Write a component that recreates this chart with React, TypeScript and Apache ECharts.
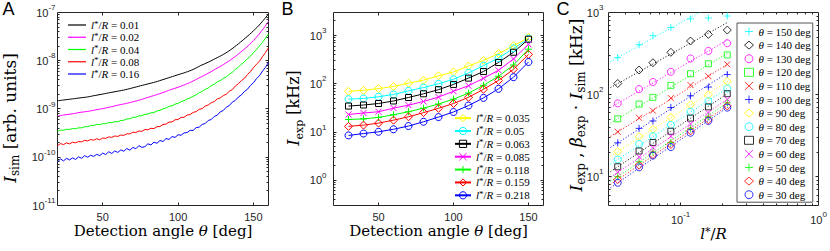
import React, { useEffect, useRef } from 'react';
import * as echarts from 'echarts';

const SERIF = '"DejaVu Serif", serif';
const TIMES = '"Liberation Serif", "Times New Roman", serif';
const SANS = '"Liberation Sans", Arial, Helvetica, sans-serif';
const AX = '#262626';

// ---------------- Panel A : simulated intensity, values in units of 1e-10 arb. units
const simAnglesCoarse = [20, 25, 30, 35, 40, 45, 50, 55, 60, 65, 70, 75, 80, 85, 90, 95, 100, 105, 110, 115, 120, 125, 130, 135, 140, 145, 150, 155, 160];
const simAnglesFine = [
  20, 22, 24, 26, 28, 30, 32, 34, 36, 38, 40, 42, 44, 46, 48, 50, 52, 54, 56, 58, 60, 62, 64, 66, 68, 70,
  72, 74, 76, 78, 80, 82, 84, 86, 88, 90, 92, 94, 96, 98, 100, 102, 104, 106, 108, 110, 112, 114, 116, 118,
  120, 122, 124, 126, 128, 130, 132, 134, 136, 138, 140, 142, 144, 146, 148, 150, 152, 154, 156, 158, 160,
];
const simRatios = ['0.01', '0.02', '0.04', '0.08', '0.16'];
const simColors = ['#000000', '#ff00ff', '#00ff00', '#ff0000', '#0000ff'];
const simI001 = [14.8, 15.5, 16.2, 17.0, 17.8, 19.1, 20.4, 21.9, 23.4, 25.1, 27.5, 30.2, 33.1, 36.3, 40.7, 45.7, 51.3, 57.5, 66.1, 79.4, 93.3, 112, 135, 170, 224, 302, 417, 603, 930];
const simI002 = [7.08, 7.59, 7.94, 8.51, 8.91, 9.55, 10.2, 11.0, 12.0, 12.9, 14.1, 15.5, 17.4, 19.5, 21.9, 25.1, 28.2, 32.4, 38.0, 45.7, 55.0, 67.6, 83.2, 105, 138, 186, 263, 398, 661];
const simI004 = [
  3.45, 3.66, 3.64, 3.80, 3.77, 3.94, 3.90, 4.08, 4.06, 4.30, 4.30, 4.55, 4.55, 4.79, 4.74, 4.97, 4.96, 5.25, 5.22, 5.48,
  5.42, 5.78, 5.84, 6.23, 6.28, 6.70, 6.76, 7.20, 7.28, 7.76, 7.84, 8.35, 8.44, 9.12, 9.38, 10.1, 10.45, 11.35, 11.65, 12.65,
  13.05, 14.25, 14.85, 16.2, 16.9, 18.4, 19.6, 21.75, 23.0, 25.6, 27.2, 30.4, 32.7, 36.6, 38.8, 43.1, 46.6, 52.5, 57.7, 66.3,
  73.4, 84.8, 94.6, 110, 124, 146, 170, 203, 239, 293, 363,
];
const simI008 = [
  1.74, 1.92, 1.83, 1.98, 1.90, 2.05, 1.99, 2.12, 2.08, 2.24, 2.18, 2.33, 2.26, 2.42, 2.30, 2.50, 2.46, 2.64, 2.58, 2.76,
  2.70, 2.89, 2.84, 3.07, 3.04, 3.31, 3.26, 3.50, 3.44, 3.76, 3.70, 3.99, 3.93, 4.30, 4.33, 4.80, 4.85, 5.36, 5.40, 5.98,
  6.05, 6.68, 6.75, 7.50, 7.68, 8.50, 8.82, 9.85, 10.2, 11.5, 12.1, 13.5, 14.2, 16.1, 17.0, 18.9, 20.3, 23.3, 25.3, 30.0,
  33.4, 38.7, 43.0, 51.8, 59.2, 71.6, 84.5, 97.5, 121, 148, 186,
];
const simI016 = [
  0.80, 0.92, 0.84, 0.95, 0.88, 0.97, 0.90, 1.02, 0.95, 1.08, 1.00, 1.10, 1.04, 1.15, 1.08, 1.22, 1.14, 1.30, 1.20, 1.35,
  1.26, 1.42, 1.33, 1.52, 1.40, 1.60, 1.50, 1.74, 1.60, 1.66, 1.90, 1.80, 2.05, 1.95, 2.22, 2.12, 2.44, 2.34, 2.68, 2.58,
  2.92, 2.86, 3.20, 3.25, 3.62, 3.60, 4.12, 4.20, 4.80, 5.00, 5.78, 6.05, 7.00, 7.45, 8.70, 9.35, 10.9, 11.8, 13.9, 15.1,
  17.7, 19.5, 23.1, 25.6, 30.7, 35.0, 42.3, 49.0, 61.0, 73.0, 93.0,
];

// ---------------- Panel B : measured intensity I_exp [kHz]
const expAngles = [30, 40, 50, 60, 70, 80, 90, 100, 110, 120, 130, 140, 150];
const expRatios = ['0.035', '0.05', '0.063', '0.085', '0.118', '0.159', '0.218'];
const expColors = ['#ffff00', '#00ffff', '#000000', '#ff00ff', '#00ff00', '#ff0000', '#0000ff'];
const expSymbols = ['diamond', 'circle', 'rect', 'cross', 'plus', 'diamond', 'circle'];
const expI0035 = [69.7, 73, 79.6, 88, 103, 119, 146, 176, 234, 305, 423, 612, 907];
const expI005 = [48, 49.6, 53.8, 60, 71.3, 83.5, 100, 124, 168, 238, 341, 542, 857];
const expI0063 = [34.5, 36.3, 39, 44, 52, 62, 75.5, 97, 131, 180, 276, 450, 837];
const expI0085 = [23.1, 24.8, 26.3, 31.3, 36, 43, 53, 70, 91, 130, 190, 328, 657];
const expI0118 = [18.2, 18.7, 20.1, 22.8, 26.3, 31.3, 38, 48, 64, 93, 143, 245, 522];
const expI0159 = [13.1, 13.9, 15.3, 17.6, 20.7, 25.2, 31, 39, 52.4, 77, 117, 200, 406];
const expI0218 = [8.5, 9.3, 10.1, 11.4, 13.3, 16.3, 20.4, 26, 35.4, 51, 78.5, 137, 283];

// ---------------- Panel C : intensity vs l*/R per detection angle, with dotted power-law fits
const lStar = [0.035, 0.05, 0.063, 0.085, 0.118, 0.159, 0.218];
const fitAngles = [150, 140, 130, 120, 110, 100, 90, 80, 70, 60, 50, 40, 30];
const fitColors = ['#00ffff', '#000000', '#ff00ff', '#00ff00', '#ff0000', '#0000ff', '#ffff00', '#00ffff', '#000000', '#ff00ff', '#00ff00', '#ff0000', '#0000ff'];
const fitSymbols = ['plus', 'diamond', 'circle', 'rect', 'cross', 'plus', 'diamond', 'circle', 'rect', 'cross', 'plus', 'diamond', 'circle'];
const fitRange = [0.031, 0.22];
const fitStart = [253, 122, 69.8, 45.2, 31.2, 22.9, 17.9, 14.3, 11.6, 9.95, 8.8, 8.1, 7.39];
const fitEnd = [1562, 760, 466, 320, 235, 186, 146, 121, 104, 89, 80.6, 74.2, 70.4];

const SYM: Record<string, string> = {
  diamond: 'diamond',
  circle: 'circle',
  rect: 'rect',
  plus: 'path://M5,0L5,10M0,5L10,5',
  cross: 'path://M0,0L10,10M0,10L10,0',
};
const SYM_SIZE: Record<string, number> = { diamond: 8, circle: 7, rect: 6, plus: 7, cross: 6 };

function powLabel(v: number, shift: number) {
  const l = Math.log10(v);
  const e = Math.round(l);
  if (Math.abs(l - e) > 1e-6) return '';
  return `{b|10}{s|${e + shift}}`;
}
function logMajor(lo: number, hi: number) {
  const out: number[] = [];
  for (let e = Math.floor(Math.log10(lo)); e <= Math.ceil(Math.log10(hi)); e++) {
    const v = Math.pow(10, e);
    if (v > lo * 1.0001 && v < hi * 0.9999) out.push(v);
  }
  return out;
}
function logMinor(lo: number, hi: number) {
  const out: number[] = [];
  for (let e = Math.floor(Math.log10(lo)); e <= Math.ceil(Math.log10(hi)); e++) {
    for (let m = 2; m <= 9; m++) {
      const v = m * Math.pow(10, e);
      if (v > lo * 1.0001 && v < hi * 0.9999) out.push(v);
    }
  }
  return out;
}

const supRich = {
  b: { fontFamily: SANS, fontSize: 11, lineHeight: 18, color: AX },
  s: { fontFamily: SANS, fontSize: 8, lineHeight: 8, verticalAlign: 'top', color: AX },
};
const legendRich = {
  i: { fontFamily: TIMES, fontStyle: 'italic', fontSize: 11, lineHeight: 12, color: '#000' },
  n: { fontFamily: TIMES, fontSize: 11, lineHeight: 12, color: '#000' },
  s: { fontFamily: TIMES, fontSize: 9, lineHeight: 8, verticalAlign: 'top', color: '#000' },
};
const makeTitleRich = (fs: number) => ({
  n: { fontFamily: SERIF, fontSize: fs, lineHeight: fs + 3, verticalAlign: 'top', fill: '#000' },
  i: { fontFamily: SERIF, fontStyle: 'italic', fontSize: fs, lineHeight: fs + 3, verticalAlign: 'top', fill: '#000' },
  sub: { fontFamily: SERIF, fontSize: Math.round(fs * 0.68), lineHeight: 6, verticalAlign: 'bottom', fill: '#000' },
  st: { fontFamily: SERIF, fontSize: Math.round(fs * 0.75), lineHeight: fs - 1, verticalAlign: 'top', fill: '#000' },
});

function tickSeries(gi: number, xMin: number, yMin: number, xMaj: number[], xMin2: number[], yMaj: number[], yMin2: number[]) {
  const data: number[][] = [];
  xMaj.forEach((v) => data.push([v, yMin, 0, 3]));
  xMin2.forEach((v) => data.push([v, yMin, 0, 2]));
  yMaj.forEach((v) => data.push([xMin, v, 1, 3]));
  yMin2.forEach((v) => data.push([xMin, v, 1, 2]));
  return {
    type: 'custom',
    name: `ticks${gi}`,
    xAxisIndex: gi,
    yAxisIndex: gi,
    silent: true,
    clip: false,
    z: 6,
    encode: { x: 0, y: 1 },
    data,
    renderItem: (params: any, api: any) => {
      const cs = params.coordSys;
      const kind = api.value(2);
      const len = api.value(3);
      const p = api.coord([api.value(0), api.value(1)]);
      const st = { stroke: AX, lineWidth: 1 };
      if (kind === 1) {
        const y = Math.round(p[1] - 0.5) + 0.5;
        return {
          type: 'group',
          children: [
            { type: 'line', shape: { x1: cs.x, y1: y, x2: cs.x + len, y2: y }, style: st },
            { type: 'line', shape: { x1: cs.x + cs.width - len, y1: y, x2: cs.x + cs.width, y2: y }, style: st },
          ],
        };
      }
      const x = Math.round(p[0] - 0.5) + 0.5;
      return {
        type: 'group',
        children: [
          { type: 'line', shape: { x1: x, y1: cs.y + cs.height, x2: x, y2: cs.y + cs.height - len }, style: st },
          { type: 'line', shape: { x1: x, y1: cs.y, x2: x, y2: cs.y + len }, style: st },
        ],
      };
    },
  };
}

function buildOption() {
  const series: any[] = [];

  // Panel A
  const simData = [simI001, simI002, simI004, simI008, simI016];
  const simAngles = [simAnglesCoarse, simAnglesCoarse, simAnglesFine, simAnglesFine, simAnglesFine];
  const simNames = simRatios.map((r) => `l*/R = ${r}`);
  simData.forEach((vals, i) => {
    series.push({
      type: 'line',
      name: simNames[i],
      xAxisIndex: 0,
      yAxisIndex: 0,
      data: simAngles[i].map((a, j) => [a, vals[j]]),
      symbol: 'none',
      smooth: i < 2 ? 0.4 : false,
      lineStyle: { color: simColors[i], width: 1 },
      itemStyle: { color: simColors[i] },
      z: 3,
    });
  });

  // Panel B
  const expTable = [expI0035, expI005, expI0063, expI0085, expI0118, expI0159, expI0218];
  const expNames = expRatios.map((r) => `l*/R = ${r}`);
  expTable.forEach((vals, i) => {
    const sym = expSymbols[i];
    series.push({
      type: 'line',
      name: expNames[i],
      xAxisIndex: 1,
      yAxisIndex: 1,
      data: expAngles.map((a, j) => [a, vals[j]]),
      symbol: SYM[sym],
      symbolSize: SYM_SIZE[sym],
      showAllSymbol: true,
      lineStyle: { color: expColors[i], width: 1 },
      itemStyle: { color: 'none', borderColor: expColors[i], borderWidth: 1 },
      z: 3,
    });
  });

  // Panel C
  const cNames = fitAngles.map((a) => `θ = ${a} deg`);
  fitAngles.forEach((ang, k) => {
    const col = fitColors[k];
    const sym = fitSymbols[k];
    const idx = expAngles.indexOf(ang);
    series.push({
      type: 'line',
      name: `fit ${ang}`,
      xAxisIndex: 2,
      yAxisIndex: 2,
      data: [
        [fitRange[0], fitStart[k]],
        [fitRange[1], fitEnd[k]],
      ],
      symbol: 'none',
      silent: true,
      lineStyle: { color: col, width: 1, type: [1, 2] },
      z: 2,
    });
    series.push({
      type: 'scatter',
      name: cNames[k],
      xAxisIndex: 2,
      yAxisIndex: 2,
      data: lStar.map((x, j) => [x, expTable[expTable.length - 1 - j][idx]]),
      symbol: SYM[sym],
      symbolSize: SYM_SIZE[sym],
      itemStyle: { color: 'none', borderColor: col, borderWidth: 1 },
      z: 3,
    });
  });

  // ticks
  series.push(tickSeries(0, 20, 0.1, [50, 100, 150], [], logMajor(0.1, 1000), logMinor(0.1, 1000)));
  series.push(tickSeries(1, 20, 0.3, [50, 100, 150], [], logMajor(0.3, 3000), logMinor(0.3, 3000)));
  series.push(tickSeries(2, 0.03, 4.5, logMajor(0.03, 1), logMinor(0.03, 1), logMajor(4.5, 1000), logMinor(4.5, 1000)));

  const gridBase = { show: true, borderColor: AX, borderWidth: 1, backgroundColor: '#fff', containLabel: false };
  const hidden = { axisLine: { show: false }, axisTick: { show: false }, splitLine: { show: false } };
  const valueX = (gi: number) => ({
    gridIndex: gi,
    type: 'value',
    min: 20,
    max: 160,
    interval: 10,
    ...hidden,
    axisLabel: {
      interval: 0,
      margin: 6,
      fontFamily: SANS,
      fontSize: 11,
      color: AX,
      formatter: (v: number) => (v % 50 === 0 && v > 20 && v < 160 ? String(v) : ''),
    },
  });
  const logAxis = (gi: number, min: number, max: number, shift: number, margin: number) => ({
    gridIndex: gi,
    type: 'log',
    logBase: 10,
    min,
    max,
    ...hidden,
    axisLabel: { interval: 0, margin, formatter: (v: number) => powLabel(v, shift), rich: supRich, color: AX },
  });

  const lFmt = (name: string) => `{i|l}{s|*}{n|/}{i|R}{n| = ${name.split('= ')[1]}}`;
  const tFmt = (name: string) => `{i|θ}{n| = ${name.split('= ')[1]}}`;
  const legendText = { fontFamily: TIMES, fontSize: 11, color: '#000', lineHeight: 12, rich: legendRich };

  const txt = (x: number, y: number, text: string, fs: number, rot = 0) => ({
    type: 'text',
    x,
    y,
    rotation: rot,
    silent: true,
    style: {
      text,
      rich: makeTitleRich(fs),
      fontFamily: SERIF,
      fontSize: fs,
      fill: '#000',
      align: 'center',
      verticalAlign: 'middle',
      textAlign: 'center',
      textVerticalAlign: 'middle',
    },
  });
  const letter = (x: number, t: string) => ({
    type: 'text',
    x,
    y: 9,
    silent: true,
    style: { text: t, fontFamily: SANS, fontSize: 18, fill: '#000', align: 'left', verticalAlign: 'middle', textAlign: 'left', textVerticalAlign: 'middle' },
  });

  return {
    animation: false,
    backgroundColor: '#fff',
    grid: [
      { ...gridBase, left: 57.5, top: 12.5, width: 211, height: 193 },
      { ...gridBase, left: 333.5, top: 12.5, width: 210, height: 193 },
      { ...gridBase, left: 608.5, top: 12.5, width: 210, height: 193 },
    ],
    xAxis: [valueX(0), valueX(1), logAxis(2, 0.03, 1, 0, 5)],
    yAxis: [logAxis(0, 0.1, 1000, -10, 2), logAxis(1, 0.3, 3000, 0, 7), logAxis(2, 4.5, 1000, 0, 5)],
    legend: [
      {
        data: simNames,
        orient: 'vertical',
        left: 68,
        top: 19,
        padding: 0,
        itemGap: 0.25,
        itemWidth: 18,
        itemHeight: 1.2,
        icon: 'rect',
        selectedMode: false,
        textStyle: legendText,
        formatter: lFmt,
      },
      {
        data: expNames,
        orient: 'vertical',
        left: 454,
        top: 112,
        padding: 0,
        itemGap: 0.67,
        itemWidth: 16,
        itemHeight: 9,
        itemStyle: { color: 'none', borderWidth: 1 },
        selectedMode: false,
        textStyle: legendText,
        formatter: lFmt,
      },
      {
        data: cNames,
        orient: 'vertical',
        left: 737,
        top: 23,
        padding: [2, 2, 1, 5],
        itemGap: 0.6,
        itemWidth: 9,
        itemHeight: 8,
        itemStyle: { color: 'none', borderWidth: 1 },
        backgroundColor: '#fff',
        borderColor: '#555',
        borderWidth: 1,
        selectedMode: false,
        z: 10,
        textStyle: legendText,
        formatter: tFmt,
      },
    ],
    graphic: [
      letter(2.5, 'A'),
      letter(281.5, 'B'),
      letter(556.5, 'C'),
      txt(163, 232, '{n|Detection angle }{i|θ}{n| [deg]}', 15),
      txt(438.5, 232, '{n|Detection angle }{i|θ}{n| [deg]}', 15),
      txt(713.5, 235, '{i|l}{st|*}{n|/}{i|R}', 15),
      txt(11, 118, '{i|I}{sub|sim}{n| [arb. units]}', 17, Math.PI / 2),
      txt(295, 108, '{i|I}{sub|exp}{n| [kHz]}', 16, Math.PI / 2),
      txt(577, 105, '{i|I}{sub|exp}{n| , }{i|β}{sub|exp}{n| · }{i|I}{sub|sim}{n| [kHz]}', 17, Math.PI / 2),
    ],
    series,
  };
}

export default function App() {
  const ref = useRef<HTMLDivElement>(null);
  useEffect(() => {
    document.body.style.margin = '0';
    const chart = echarts.init(ref.current as HTMLDivElement, null, { renderer: 'svg', width: 830, height: 251 });
    chart.setOption(buildOption() as any);
    return () => chart.dispose();
  }, []);
  return <div ref={ref} style={{ width: 830, height: 251 }} />;
}
